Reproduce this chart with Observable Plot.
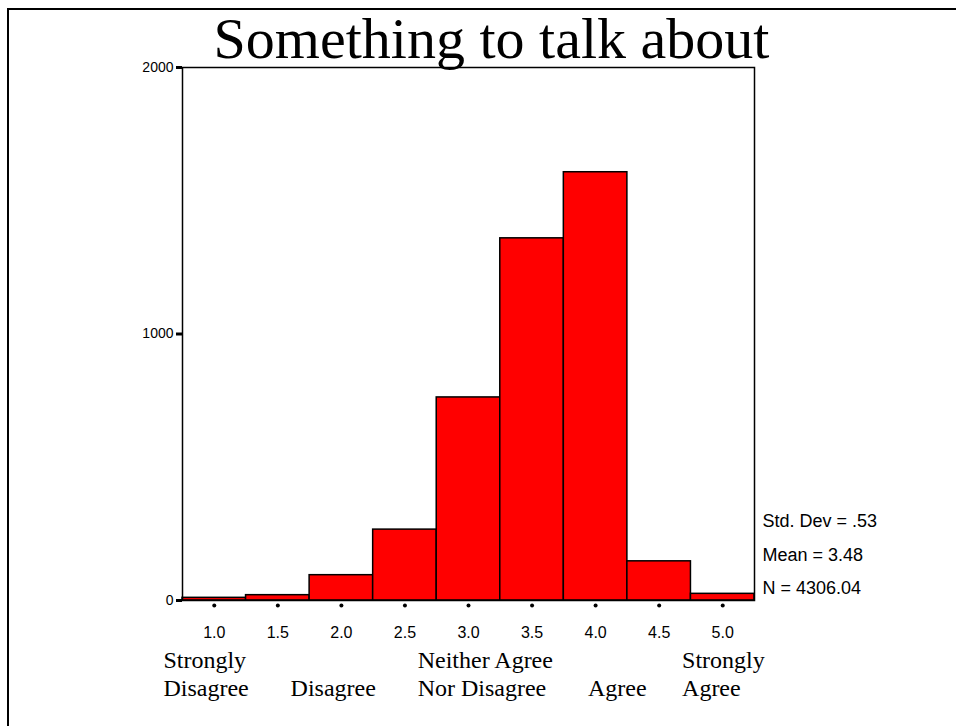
<!DOCTYPE html>
<html>
<head>
<meta charset="utf-8">
<script src="https://cdn.jsdelivr.net/npm/d3@7"></script>
<script src="https://cdn.jsdelivr.net/npm/@observablehq/plot@0.6"></script>
<style>
  html, body { margin: 0; padding: 0; background: #fff; }
  #wrap { position: relative; width: 956px; height: 726px; overflow: hidden; }
  #border { position: absolute; left: 7px; top: 8px; right: -10px; bottom: -10px;
            border-top: 2.5px solid #000; border-left: 2.5px solid #000; pointer-events: none; }
</style>
</head>
<body>
<div id="wrap"><div id="border"></div></div>
<script>
// ---- data ----
const binCenters = [1.0, 1.5, 2.0, 2.5, 3.0, 3.5, 4.0, 4.5, 5.0];
const counts     = [10, 20, 95, 266, 762, 1359, 1607, 147, 25];
const binWidth = 0.5;
const yTicks = [0, 1000, 2000];
const titleText = "Something to talk about";
const statsLines = ["Std. Dev = .53", "Mean = 3.48", "N = 4306.04"];
const catLine1 = ["Strongly", "", "Neither Agree", "", "Strongly"];
const catLine2 = ["Disagree", "Disagree", "Nor Disagree", "Agree", "Agree"];
const catAnchorX = [0.6, 1.6, 2.6, 3.94, 4.68];

const bars = binCenters.map((c, i) => ({x1: c - binWidth / 2, x2: c + binWidth / 2, y: counts[i]}));
const cats = catAnchorX.map((x, i) => ({x, l1: catLine1[i], l2: catLine2[i]}));
const statsDy = [-79, -45, -12];
const stats = statsLines.map((t, i) => ({t, dy: statsDy[i]}));

const sans = "Arial, 'Liberation Sans', sans-serif";
const serif = "'Times New Roman', 'Liberation Serif', serif";

const chart = Plot.plot({
  width: 956,
  height: 726,
  marginLeft: 182,
  marginRight: 202,
  marginTop: 67,
  marginBottom: 126,
  style: {background: "transparent", fontFamily: sans, fontSize: "14px", overflow: "visible"},
  x: {domain: [0.75, 5.25], axis: null},
  y: {domain: [0, 2000], axis: null},
  marks: [
    Plot.rectY(bars, {x1: "x1", x2: "x2", y: "y", fill: "#ff0000", stroke: "#000", strokeWidth: 1.5, inset: 0}),
    Plot.frame({stroke: "#000", strokeWidth: 1.5}),
    Plot.axisY({ticks: yTicks, tickSize: 6, tickFormat: () => "", stroke: "#000", strokeWidth: 3, label: null}),
    Plot.text(yTicks, {y: d => d, text: d => String(d), frameAnchor: "left", textAnchor: "end",
                       lineAnchor: "middle", dx: -9, fontSize: 14, fill: "#000"}),
    Plot.dot(binCenters, {x: d => d, frameAnchor: "bottom", dy: 5, r: 2, fill: "#000", stroke: null}),
    Plot.text(binCenters, {x: d => d, text: d => d.toFixed(1), frameAnchor: "bottom", dy: 32,
                           lineAnchor: "middle", fontSize: 16, fill: "#000"}),
    Plot.text(cats, {x: "x", text: "l1", frameAnchor: "bottom", dy: 60, textAnchor: "start",
                     lineAnchor: "middle", fontSize: 24, fontFamily: serif, fill: "#000"}),
    Plot.text(cats, {x: "x", text: "l2", frameAnchor: "bottom", dy: 88, textAnchor: "start",
                     lineAnchor: "middle", fontSize: 24, fontFamily: serif, fill: "#000"}),
    ...stats.map(s => Plot.text([s.t], {text: d => d, frameAnchor: "bottom-right", textAnchor: "start",
                     lineAnchor: "middle", dx: 8, dy: s.dy, fontSize: 18, fill: "#000"})),
    Plot.text([titleText], {text: d => d, frameAnchor: "top", dx: 23, dy: -10, lineAnchor: "bottom",
                            fontSize: 58, fontFamily: serif, fill: "#000"})
  ]
});
chart.style.position = "absolute";
chart.style.left = "0";
chart.style.top = "0";
document.getElementById("wrap").appendChild(chart);
</script>
</body>
</html>
